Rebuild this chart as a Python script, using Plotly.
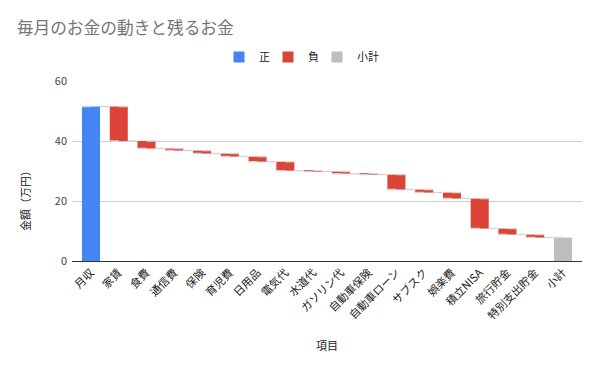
import plotly.graph_objects as go

categories = ["月収", "家賃", "食費", "通信費", "保険", "育児費", "日用品", "電気代", "水道代",
              "ガソリン代", "自動車保険", "自動車ローン", "サブスク", "娯楽費", "積立NISA",
              "旅行貯金", "特別支出貯金", "小計"]
values = [51.5, -11.5, -2.5, -0.7, -1.0, -1.0, -1.7, -3.0, -0.3,
          -0.7, -0.3, -5.0, -1.0, -2.0, -10.0, -2.0, -1.0, 0]
measures = ["relative"] * 17 + ["total"]
legend_names = ["正", "負", "小計"]
legend_colors = ["#4285F4", "#DB4437", "#BDBDBD"]
y_ticks = [0, 20, 40, 60]

FONT = "Noto Sans CJK JP, Noto Sans, sans-serif"

fig = go.Figure()
fig.add_trace(go.Waterfall(
    x=categories, y=values, measure=measures, base=0,
    increasing=dict(marker=dict(color=legend_colors[0])),
    decreasing=dict(marker=dict(color=legend_colors[1])),
    totals=dict(marker=dict(color=legend_colors[2])),
    connector=dict(mode="spanning", line=dict(color="#d6d6d6", width=1.5, dash="dash")),
    showlegend=False, textposition="none",
))
for n, c in zip(legend_names, legend_colors):
    fig.add_trace(go.Scatter(x=[None], y=[None], mode="markers", name=n,
                             marker=dict(symbol="square", size=11, color=c)))
# invisible spacer entry so the last legend label is not clipped
fig.add_trace(go.Scatter(x=[None], y=[None], mode="markers", name="\u3000",
                         marker=dict(symbol="square", size=11, color="rgba(0,0,0,0)")))

fig.update_layout(
    width=600, height=371,
    margin=dict(l=72, r=18, t=81, b=110, autoexpand=False),
    paper_bgcolor="white", plot_bgcolor="white",
    font=dict(family=FONT, size=11, color="#222222"),
    waterfallgap=0.35,
    title=dict(text="毎月のお金の動きと残るお金", x=0.028, xanchor="left", y=0.925, yanchor="middle",
               font=dict(size=16.7, color="#757575", family=FONT)),
    legend=dict(orientation="h", xref="container", x=219 / 600, xanchor="left",
                yref="container", y=1 - 57 / 371, yanchor="middle",
                font=dict(size=11, color="#222222"), itemwidth=30, tracegroupgap=0,
                entrywidth=4, entrywidthmode="pixels"),
    xaxis=dict(range=[-0.684, 17.684], tickangle=-45, showgrid=False, showline=True,
               linecolor="#333333", linewidth=1, ticks="", automargin=False,
               tickfont=dict(size=11, color="#222222")),
    yaxis=dict(range=[0, 60], tickvals=y_ticks, showgrid=True, gridcolor="#cccccc",
               zeroline=False, ticks="", automargin=False,
               tickfont=dict(size=11, color="#444444"), ticklabelstandoff=4),
    annotations=[
        dict(text="金額（万円）", xref="paper", yref="paper", x=-0.092, y=0.35, xanchor="center",
             yanchor="middle", textangle=-90, showarrow=False, font=dict(size=11, color="#222222")),
        dict(text="項目", xref="paper", yref="paper", x=0.5, y=-0.467, xanchor="center",
             yanchor="middle", showarrow=False, font=dict(size=11, color="#222222")),
    ],
)

fig.write_html("out.html", config={"displayModeBar": False},
               post_script="document.body.style.margin='0';")
